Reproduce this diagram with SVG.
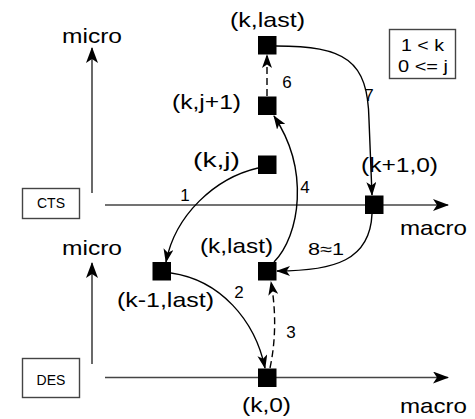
<svg xmlns="http://www.w3.org/2000/svg" width="475" height="419" viewBox="0 0 475 419">
<style>
.lbl{font-family:"Liberation Sans",Arial,sans-serif;font-size:21px;fill:#000}
.el{font-family:"Liberation Sans",Arial,sans-serif;font-size:17px;fill:#000}
.sm{font-family:"Liberation Sans",Arial,sans-serif;font-size:14px;fill:#000}
.axis{stroke:#444;stroke-width:1.6;fill:none}
.edge{stroke:#000;stroke-width:1.4;fill:none}
.dash{stroke-dasharray:7 4}
.nd{fill:#000}
.box{fill:#fff;stroke:#444;stroke-width:1.4}
</style>
<defs>
<marker id="ah" viewBox="0 0 14 10" refX="13" refY="5" markerWidth="14" markerHeight="10" markerUnits="userSpaceOnUse" orient="auto">
<path d="M0,0 L14,5 L0,10 L3.5,5 z" fill="#000"/>
</marker>
<marker id="ax" viewBox="0 0 16 12" refX="15" refY="6" markerWidth="16" markerHeight="12" markerUnits="userSpaceOnUse" orient="auto">
<path d="M0,0 L16,6 L0,12 L4,6 z" fill="#000"/>
</marker>
</defs>
<rect width="475" height="419" fill="#fff"/>
<g id="axes">
<line class="axis" x1="105" y1="205" x2="448" y2="205" marker-end="url(#ax)"/>
<line class="axis" x1="105" y1="377.5" x2="448" y2="377.5" marker-end="url(#ax)"/>
<line class="axis" x1="92" y1="193" x2="92" y2="48" marker-end="url(#ax)"/>
<line class="axis" x1="92" y1="364" x2="92" y2="263" marker-end="url(#ax)"/>
<text class="lbl" x="62" y="43" textLength="60" lengthAdjust="spacingAndGlyphs">micro</text>
<text class="lbl" x="62" y="255" textLength="60" lengthAdjust="spacingAndGlyphs">micro</text>
<text class="lbl" x="400" y="235" textLength="67" lengthAdjust="spacingAndGlyphs">macro</text>
<text class="lbl" x="400" y="413" textLength="67" lengthAdjust="spacingAndGlyphs">macro</text>
</g>
<g id="cts">
<rect class="box" x="22.5" y="188.5" width="57" height="30"/>
<text class="sm" x="51" y="207.5" text-anchor="middle">CTS</text>
</g>
<g id="des">
<rect class="box" x="22.5" y="358.5" width="57" height="39"/>
<text class="sm" x="51" y="385" text-anchor="middle">DES</text>
</g>
<g id="constraints">
<rect class="box" x="389.5" y="29.5" width="66" height="49"/>
<text class="el" x="401" y="51" textLength="43" lengthAdjust="spacingAndGlyphs">1 &lt; k</text>
<text class="el" x="398" y="72" textLength="50" lengthAdjust="spacingAndGlyphs">0 &lt;= j</text>
</g>
<g id="connectors">
<path class="edge" d="M258,168 C215,178 175,215 166,262" marker-end="url(#ah)"/>
<path class="edge" d="M171,273 C220,280 255,320 265,368" marker-end="url(#ah)"/>
<path class="edge dash" d="M270,368 C276,340 276,310 271,282" marker-end="url(#ah)"/>
<path class="edge" d="M274,262 C300,235 310,170 274,116" marker-end="url(#ah)"/>
<path class="edge dash" d="M267,96 L267,55" marker-end="url(#ah)"/>
<path class="edge" d="M276,46 C345,46 368,60 369,120 C370,150 371,175 372,195" marker-end="url(#ah)"/>
<path class="edge" d="M372,214 C370,260 335,271 277,271" marker-end="url(#ah)"/>
<text class="el" x="185" y="201" text-anchor="middle">1</text>
<text class="el" x="239" y="298" text-anchor="middle">2</text>
<text class="el" x="291" y="338" text-anchor="middle">3</text>
<text class="el" x="305" y="193" text-anchor="middle">4</text>
<text class="el" x="287" y="88" text-anchor="middle">6</text>
<text class="el" x="369" y="101" text-anchor="middle">7</text>
<text class="el" x="308" y="255" textLength="36" lengthAdjust="spacingAndGlyphs">8≈1</text>
</g>
<g id="n-k-last-top">
<rect class="nd" x="258" y="36" width="18.5" height="18.5"/>
<text class="lbl" x="230" y="27" textLength="75" lengthAdjust="spacingAndGlyphs">(k,last)</text>
</g>
<g id="n-k-j1">
<rect class="nd" x="258" y="96.5" width="18.5" height="18.5"/>
<text class="lbl" x="172" y="109" textLength="69" lengthAdjust="spacingAndGlyphs">(k,j+1)</text>
</g>
<g id="n-k-j">
<rect class="nd" x="258" y="155.5" width="18.5" height="18.5"/>
<text class="lbl" x="193" y="167" textLength="47" lengthAdjust="spacingAndGlyphs">(k,j)</text>
</g>
<g id="n-k1-0">
<rect class="nd" x="365" y="195.5" width="18.5" height="18.5"/>
<text class="lbl" x="361" y="172" textLength="77" lengthAdjust="spacingAndGlyphs">(k+1,0)</text>
</g>
<g id="n-k-last-low">
<rect class="nd" x="258" y="262" width="18.5" height="18.5"/>
<text class="lbl" x="200" y="253" textLength="73" lengthAdjust="spacingAndGlyphs">(k,last)</text>
</g>
<g id="n-km1-last">
<rect class="nd" x="152.5" y="262" width="18.5" height="18.5"/>
<text class="lbl" x="117" y="307" textLength="97" lengthAdjust="spacingAndGlyphs">(k-1,last)</text>
</g>
<g id="n-k-0">
<rect class="nd" x="258" y="368.5" width="18.5" height="18.5"/>
<text class="lbl" x="242" y="412" textLength="49" lengthAdjust="spacingAndGlyphs">(k,0)</text>
</g>
</svg>
